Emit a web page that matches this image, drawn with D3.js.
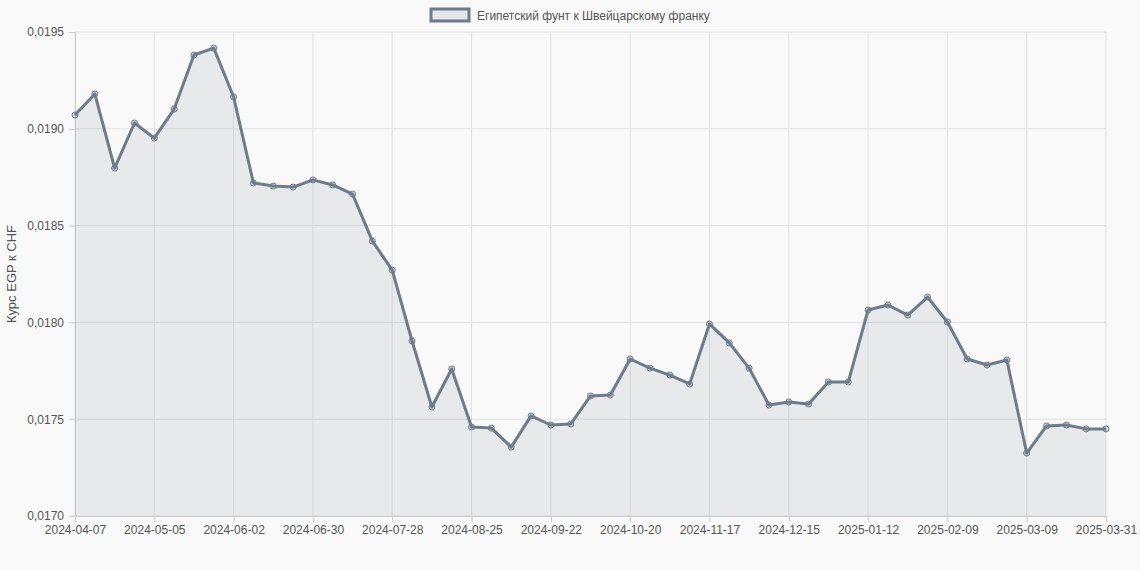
<!DOCTYPE html>
<html><head><meta charset="utf-8">
<script src="https://cdn.jsdelivr.net/npm/d3@7"></script>
<style>body{margin:0;background:#f9f9f9;font-family:"Liberation Sans",Arial,sans-serif}</style>
</head><body><svg id="c" width="1140" height="570"></svg>
<script>
const categories=["2024-04-07","2024-04-14","2024-04-21","2024-04-28","2024-05-05","2024-05-12","2024-05-19","2024-05-26","2024-06-02","2024-06-09","2024-06-16","2024-06-23","2024-06-30","2024-07-07","2024-07-14","2024-07-21","2024-07-28","2024-08-04","2024-08-11","2024-08-18","2024-08-25","2024-09-01","2024-09-08","2024-09-15","2024-09-22","2024-09-29","2024-10-06","2024-10-13","2024-10-20","2024-10-27","2024-11-03","2024-11-10","2024-11-17","2024-11-24","2024-12-01","2024-12-08","2024-12-15","2024-12-22","2024-12-29","2025-01-05","2025-01-12","2025-01-19","2025-01-26","2025-02-02","2025-02-09","2025-02-16","2025-02-23","2025-03-02","2025-03-09","2025-03-16","2025-03-23","2025-03-30","2025-03-31"];
const values=[0.019071,0.01918,0.018797,0.01903,0.018952,0.019102,0.019381,0.019417,0.019164,0.01872,0.018704,0.018699,0.018736,0.01871,0.018663,0.01842,0.01827,0.017904,0.017563,0.017759,0.01746,0.017454,0.017356,0.017517,0.01747,0.017475,0.01762,0.017625,0.017811,0.017764,0.017728,0.017682,0.017992,0.017894,0.017764,0.017573,0.017589,0.017578,0.017692,0.017692,0.018064,0.01809,0.018038,0.018131,0.018002,0.017811,0.01778,0.017806,0.017325,0.017465,0.01747,0.01745,0.01745];
const yTicks=[0.017,0.0175,0.018,0.0185,0.019,0.0195];
const seriesName="Египетский фунт к Швейцарскому франку";
const yTitle="Курс EGP к CHF";

const svg=d3.select("#c");
const L=75,R=1106,T=32,B=516;
const x=d3.scalePoint().domain(categories).range([L,R]);
const y=d3.scaleLinear().domain([0.017,0.0195]).range([B,T]);
const fmt=v=>d3.format(".4f")(v).replace(".",",");
const shown=categories.filter((d,i)=>i%4===0||i===categories.length-1);
// grid
svg.append("g").selectAll("line").data(yTicks).join("line")
 .attr("x1",L).attr("x2",R).attr("y1",d=>y(d)).attr("y2",d=>y(d)).attr("stroke","#e2e2e2");
svg.append("g").selectAll("line").data(shown).join("line")
 .attr("x1",d=>x(d)).attr("x2",d=>x(d)).attr("y1",T).attr("y2",B).attr("stroke","#e2e2e2");
// axes
const ya=svg.append("g").attr("transform",`translate(${L},0)`).call(d3.axisLeft(y).tickValues(yTicks).tickFormat(fmt).tickSize(6));
const xa=svg.append("g").attr("transform",`translate(0,${B})`).call(d3.axisBottom(x).tickValues(shown).tickSize(6));
[ya,xa].forEach(a=>{a.selectAll("path,line").attr("stroke","#ccc");a.selectAll("text").attr("fill","#555").attr("font-size",12).attr("font-family","Liberation Sans, Arial");});
ya.selectAll("text").attr("dx",-2);
// area & line
svg.append("path").datum(values).attr("fill","rgba(110,123,138,0.12)")
 .attr("d",d3.area().x((d,i)=>x(categories[i])).y0(B).y1(d=>y(d)));
svg.append("path").datum(values).attr("fill","none").attr("stroke","#6e7b8a").attr("stroke-width",3).attr("stroke-linejoin","round")
 .attr("d",d3.line().x((d,i)=>x(categories[i])).y(d=>y(d)));
svg.append("g").selectAll("circle").data(values).join("circle")
 .attr("cx",(d,i)=>x(categories[i])).attr("cy",d=>y(d)).attr("r",3)
 .attr("fill","rgba(110,123,138,0.25)").attr("stroke","#6e7b8a").attr("stroke-width",1);
// legend
svg.append("rect").attr("x",431).attr("y",9).attr("width",38).attr("height",12).attr("fill","rgba(110,123,138,0.15)").attr("stroke","#6e7b8a").attr("stroke-width",3);
svg.append("text").attr("x",477).attr("y",19.5).attr("font-size",12).attr("fill","#555").text(seriesName);
// y title
svg.append("text").attr("transform",`translate(16,${(T+B)/2}) rotate(-90)`).attr("text-anchor","middle").attr("font-size",13).attr("fill","#555").text(yTitle);
</script></body></html>
